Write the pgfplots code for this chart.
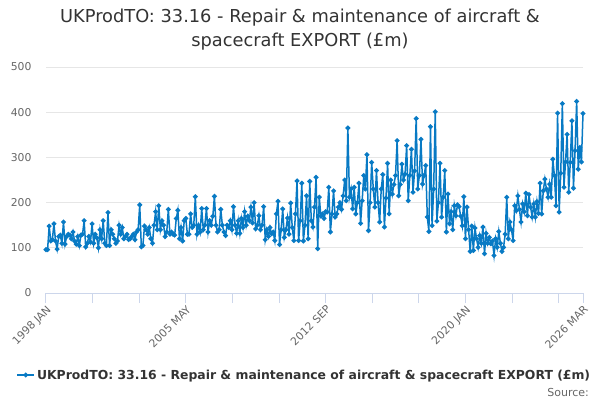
\documentclass[border=0pt]{standalone}
\usepackage{pgfplots}
\pgfplotsset{compat=1.18}
\usepackage{fontspec}
\setmainfont{DejaVu Sans}
\definecolor{series}{RGB}{8,122,196}
\definecolor{titlegray}{RGB}{51,51,51}
\definecolor{labelgray}{RGB}{102,102,102}
\definecolor{gridgray}{RGB}{230,230,230}
\definecolor{axisblue}{RGB}{204,214,235}
\begin{document}
\begin{tikzpicture}[x=1pt,y=1pt]
\useasboundingbox (0,0) rectangle (600,400);
\node[font=\fontsize{17.8}{24}\selectfont, text=titlegray, align=center] at (300,370) {UKProdTO: 33.16 - Repair \& maintenance of aircraft \&\\spacecraft EXPORT (£m)};
\begin{axis}[
  scale only axis, width=537pt, height=226pt,
  at={(46pt,107pt)}, anchor=south west,
  xmin=0, xmax=338, ymin=0, ymax=500,
  axis x line*=bottom, axis y line*=left,
  separate axis lines,
  x axis line style={draw=axisblue, line width=1pt, -},
  y axis line style={draw=none},
  ytick={0,100,200,300,400,500},
  ymajorgrids, grid style={draw=gridgray, line width=0.8pt},
  ytick style={draw=none},
  xtick={0,88,176,264,338},
  xticklabels={1998 JAN,2005 MAY,2012 SEP,2020 JAN,2026 MAR},
  extra x ticks={29.333,58.667,117.333,146.667,205.333,234.667,293.333,322.667},
  extra x tick labels={},
  extra x tick style={xtick style={draw=axisblue, line width=1pt}, grid=none},
  xtick style={draw=axisblue, line width=1pt},
  xtick align=outside, major tick length=10pt,
  xticklabel style={rotate=45, anchor=north east, font=\fontsize{10.8}{12}\selectfont, text=labelgray, inner sep=1pt},
  yticklabel style={font=\fontsize{10.8}{12}\selectfont, text=labelgray, xshift=-11pt},
  /pgf/number format/assume math mode=true,
  clip=false,
  legend style={at={(0.481,-0.363)}, anchor=center, draw=none, fill=none,
    font=\bfseries\fontsize{12.4}{14}\selectfont, text=titlegray, inner sep=0pt},
  legend cell align=left,
]
\addplot[color=series, line width=1.5pt, mark=*, mark size=1.6pt, mark options={solid, fill=series, draw=series}]
table[header=false, x expr=\coordindex, y index=0, row sep=\\] {
96\\ 96\\ 148\\ 115\\ 118\\ 153\\ 115\\ 97\\ 125\\ 128\\ 110\\ 157\\
108\\ 125\\ 130\\ 128\\ 120\\ 135\\ 115\\ 108\\ 125\\ 105\\ 128\\ 130\\
160\\ 102\\ 110\\ 125\\ 113\\ 153\\ 110\\ 130\\ 122\\ 100\\ 140\\ 120\\
160\\ 110\\ 105\\ 178\\ 105\\ 140\\ 130\\ 120\\ 110\\ 115\\ 150\\ 130\\
145\\ 120\\ 125\\ 130\\ 118\\ 120\\ 125\\ 130\\ 118\\ 135\\ 140\\ 195\\
102\\ 105\\ 148\\ 140\\ 130\\ 145\\ 120\\ 110\\ 150\\ 180\\ 140\\ 193\\
140\\ 160\\ 150\\ 125\\ 135\\ 185\\ 130\\ 135\\ 130\\ 128\\ 165\\ 183\\
120\\ 145\\ 115\\ 160\\ 165\\ 130\\ 130\\ 175\\ 145\\ 150\\ 213\\ 130\\
150\\ 135\\ 187\\ 140\\ 150\\ 187\\ 135\\ 160\\ 150\\ 170\\ 214\\ 150\\
135\\ 140\\ 185\\ 150\\ 135\\ 127\\ 150\\ 145\\ 160\\ 140\\ 191\\ 150\\
132\\ 160\\ 132\\ 165\\ 145\\ 180\\ 150\\ 170\\ 160\\ 190\\ 155\\ 200\\
142\\ 150\\ 171\\ 140\\ 150\\ 191\\ 118\\ 140\\ 125\\ 145\\ 131\\ 135\\
116\\ 175\\ 203\\ 107\\ 140\\ 186\\ 123\\ 140\\ 166\\ 130\\ 199\\ 145\\
116\\ 175\\ 248\\ 116\\ 160\\ 243\\ 115\\ 150\\ 215\\ 120\\ 247\\ 160\\
146\\ 190\\ 256\\ 98\\ 212\\ 170\\ 175\\ 165\\ 180\\ 179\\ 234\\ 135\\
175\\ 226\\ 168\\ 175\\ 190\\ 200\\ 185\\ 215\\ 250\\ 204\\ 365\\ 212\\
230\\ 186\\ 234\\ 175\\ 200\\ 243\\ 154\\ 204\\ 260\\ 230\\ 306\\ 138\\
200\\ 289\\ 230\\ 190\\ 271\\ 200\\ 157\\ 230\\ 262\\ 146\\ 210\\ 287\\
175\\ 250\\ 219\\ 240\\ 260\\ 337\\ 215\\ 240\\ 285\\ 250\\ 263\\ 326\\
204\\ 260\\ 318\\ 223\\ 270\\ 386\\ 230\\ 260\\ 340\\ 241\\ 260\\ 282\\
168\\ 136\\ 368\\ 149\\ 230\\ 401\\ 159\\ 200\\ 287\\ 168\\ 212\\ 271\\
135\\ 219\\ 153\\ 180\\ 140\\ 193\\ 171\\ 195\\ 191\\ 170\\ 149\\ 213\\
120\\ 190\\ 140\\ 92\\ 148\\ 94\\ 144\\ 120\\ 101\\ 127\\ 110\\ 146\\
87\\ 132\\ 110\\ 123\\ 109\\ 115\\ 83\\ 120\\ 101\\ 136\\ 110\\ 92\\
101\\ 130\\ 212\\ 120\\ 157\\ 140\\ 116\\ 193\\ 182\\ 215\\ 185\\ 157\\
197\\ 180\\ 221\\ 171\\ 218\\ 190\\ 168\\ 197\\ 168\\ 202\\ 176\\ 243\\
175\\ 226\\ 252\\ 230\\ 212\\ 241\\ 212\\ 296\\ 260\\ 193\\ 398\\ 179\\
265\\ 419\\ 234\\ 290\\ 351\\ 223\\ 289\\ 381\\ 232\\ 315\\ 424\\ 274\\
322\\ 290\\ 397\\
};
\addlegendentry{UKProdTO: 33.16 - Repair \& maintenance of aircraft \& spacecraft EXPORT (£m)}
\end{axis}
\node[anchor=south east, font=\fontsize{11}{13}\selectfont, text=labelgray, inner sep=0pt] at (589,3) {Source:};
\end{tikzpicture}
\end{document}
